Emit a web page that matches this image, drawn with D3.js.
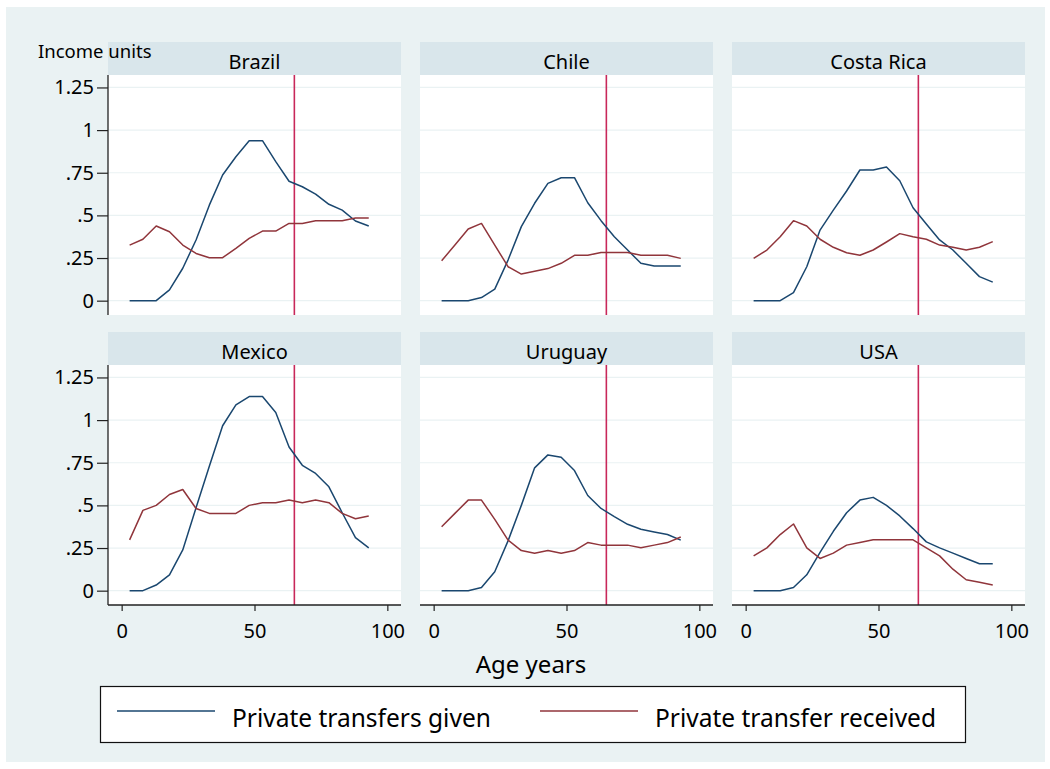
<!DOCTYPE html>
<html>
<head>
<meta charset="utf-8">
<script src="https://cdn.jsdelivr.net/npm/d3@7"></script>
<style>
  html, body { margin: 0; padding: 0; background: #ffffff; }
  svg { display: block; }
  text { font-family: "Noto Sans", "Open Sans", sans-serif; fill: #000; }
</style>
</head>
<body>
<svg id="chart" width="1050" height="769"></svg>
<script>
// Age groups (midpoints, years)
const ages = [3, 8, 13, 18, 23, 28, 33, 38, 43, 48, 53, 58, 63, 68, 73, 78, 83, 88, 93];

const countries = ["Brazil", "Chile", "Costa Rica", "Mexico", "Uruguay", "USA"];

// Private transfers given, by country (income units)
const givenBrazil    = [0, 0, 0, 0.063, 0.19, 0.356, 0.56, 0.737, 0.844, 0.938, 0.938, 0.815, 0.70, 0.668, 0.625, 0.565, 0.531, 0.467, 0.438];
const givenChile     = [0, 0, 0, 0.018, 0.068, 0.238, 0.434, 0.571, 0.688, 0.721, 0.721, 0.574, 0.469, 0.375, 0.297, 0.219, 0.203, 0.203, 0.203];
const givenCostaRica = [0, 0, 0, 0.047, 0.199, 0.414, 0.531, 0.643, 0.766, 0.766, 0.784, 0.703, 0.545, 0.449, 0.356, 0.297, 0.219, 0.141, 0.109];
const givenMexico    = [0, 0, 0.033, 0.093, 0.239, 0.486, 0.73, 0.967, 1.089, 1.138, 1.138, 1.045, 0.842, 0.735, 0.687, 0.609, 0.457, 0.311, 0.251];
const givenUruguay   = [0, 0, 0, 0.019, 0.111, 0.292, 0.5, 0.72, 0.796, 0.782, 0.704, 0.558, 0.482, 0.434, 0.389, 0.36, 0.344, 0.329, 0.296];
const givenUSA       = [0, 0, 0, 0.019, 0.093, 0.224, 0.348, 0.457, 0.531, 0.547, 0.5, 0.438, 0.364, 0.286, 0.251, 0.22, 0.189, 0.158, 0.158];

// Private transfers received, by country (income units)
const recvBrazil     = [0.326, 0.36, 0.438, 0.404, 0.326, 0.277, 0.252, 0.252, 0.307, 0.365, 0.408, 0.408, 0.453, 0.453, 0.469, 0.469, 0.469, 0.485, 0.485];
const recvChile      = [0.234, 0.326, 0.42, 0.453, 0.326, 0.199, 0.156, 0.172, 0.188, 0.219, 0.266, 0.266, 0.283, 0.283, 0.283, 0.266, 0.266, 0.266, 0.248];
const recvCostaRica  = [0.248, 0.297, 0.375, 0.469, 0.438, 0.36, 0.313, 0.281, 0.266, 0.297, 0.344, 0.393, 0.375, 0.36, 0.326, 0.313, 0.297, 0.313, 0.346];
const recvMexico     = [0.298, 0.471, 0.5, 0.564, 0.593, 0.482, 0.453, 0.453, 0.453, 0.5, 0.516, 0.516, 0.531, 0.516, 0.531, 0.516, 0.453, 0.422, 0.438];
const recvUruguay    = [0.375, 0.453, 0.531, 0.531, 0.418, 0.296, 0.235, 0.22, 0.235, 0.22, 0.235, 0.282, 0.267, 0.267, 0.267, 0.251, 0.267, 0.282, 0.315];
const recvUSA        = [0.204, 0.251, 0.329, 0.391, 0.251, 0.189, 0.22, 0.267, 0.282, 0.298, 0.298, 0.298, 0.298, 0.251, 0.204, 0.126, 0.064, 0.049, 0.033];

const givenSeries = [givenBrazil, givenChile, givenCostaRica, givenMexico, givenUruguay, givenUSA];
const recvSeries  = [recvBrazil, recvChile, recvCostaRica, recvMexico, recvUruguay, recvUSA];

// Axis ticks
const yTicks = [0, 0.25, 0.5, 0.75, 1, 1.25];
const yTickLabels = ["0", ".25", ".5", ".75", "1", "1.25"];
const xTicks = [0, 50, 100];
const retirementAge = 65;

const seriesNames = ["Private transfers given", "Private transfer received"];

// Layout
const colLeft = [108, 420, 732];
const rowTop = [75, 365];       // top of each plot area
const panelW = 293, panelH = 240, stripH = 33;

const colGiven = "#1a476f";
const colRecv = "#90353b";
const colVline = "#c8285a";
const colGrid = "#eaf2f3";

const svg = d3.select("#chart");

// graph region background
svg.append("rect").attr("x", 6).attr("y", 7).attr("width", 1039).attr("height", 755).attr("fill", "#eaf2f3");

const x = d3.scaleLinear().domain([-5.14, 105.14]).range([0, panelW]);
const y = d3.scaleLinear().domain([-0.084, 1.323]).range([panelH, 0]);

const line = d3.line().x((d, i) => x(ages[i])).y(d => y(d));

countries.forEach((name, k) => {
  const col = k % 3, row = Math.floor(k / 3);
  const g = svg.append("g").attr("transform", `translate(${colLeft[col]},${rowTop[row]})`);

  // strip
  g.append("rect").attr("x", 0).attr("y", -stripH).attr("width", panelW).attr("height", stripH).attr("fill", "#d9e6eb");
  g.append("text").attr("x", panelW / 2).attr("y", -6).attr("text-anchor", "middle")
    .style("font-size", "20px").text(name);

  // plot region
  g.append("rect").attr("x", 0).attr("y", 0).attr("width", panelW).attr("height", panelH).attr("fill", "#ffffff");

  // gridlines
  g.selectAll("line.grid").data(yTicks).enter().append("line")
    .attr("x1", 0).attr("x2", panelW).attr("y1", d => y(d)).attr("y2", d => y(d))
    .attr("stroke", colGrid).attr("stroke-width", 1.2);

  // reference line at retirement age
  g.append("line").attr("x1", x(retirementAge)).attr("x2", x(retirementAge))
    .attr("y1", 0).attr("y2", panelH).attr("stroke", colVline).attr("stroke-width", 1.6);

  g.append("path").datum(givenSeries[k]).attr("d", line)
    .attr("fill", "none").attr("stroke", colGiven).attr("stroke-width", 1.5).attr("stroke-linejoin", "round");
  g.append("path").datum(recvSeries[k]).attr("d", line)
    .attr("fill", "none").attr("stroke", colRecv).attr("stroke-width", 1.5).attr("stroke-linejoin", "round");

  // y axis on left column
  if (col === 0) {
    const ya = d3.axisLeft(y).tickValues(yTicks).tickSize(11).tickPadding(3)
      .tickFormat((d, i) => yTickLabels[i]);
    const ag = g.append("g").call(ya);
    ag.select(".domain").attr("d", `M0,0V${panelH}`).attr("stroke", "#222").attr("stroke-width", 1.3);
    ag.selectAll(".tick line").attr("stroke", "#222").attr("stroke-width", 1.2);
    ag.selectAll(".tick text").style("font-size", "20px").style("font-family", "Noto Sans").attr("fill", "#000");
  }
  // x axis on bottom row
  if (row === 1) {
    const xa = d3.axisBottom(x).tickValues(xTicks).tickSize(6).tickPadding(13);
    const ag = g.append("g").attr("transform", `translate(0,${panelH})`).call(xa);
    ag.select(".domain").attr("d", `M0,0H${panelW}`).attr("stroke", "#222").attr("stroke-width", 1.3);
    ag.selectAll(".tick line").attr("stroke", "#222").attr("stroke-width", 1.2);
    ag.selectAll(".tick text").style("font-size", "20px").style("font-family", "Noto Sans").attr("fill", "#000");
  }
});

// y axis title
svg.append("text").attr("x", 38).attr("y", 58).style("font-size", "18.5px").text("Income units");

// x axis title
svg.append("text").attr("x", 531).attr("y", 673).attr("text-anchor", "middle").style("font-size", "24px").text("Age years");

// legend
const lg = svg.append("g");
lg.append("rect").attr("x", 100.5).attr("y", 686.5).attr("width", 865).attr("height", 56)
  .attr("fill", "#ffffff").attr("stroke", "#111").attr("stroke-width", 1.2);
const legendItems = [
  { name: seriesNames[0], color: colGiven, x0: 117, tx: 232 },
  { name: seriesNames[1], color: colRecv, x0: 540, tx: 655 }
];
legendItems.forEach(it => {
  lg.append("line").attr("x1", it.x0).attr("x2", it.x0 + 98).attr("y1", 711).attr("y2", 711)
    .attr("stroke", it.color).attr("stroke-width", 1.5);
  lg.append("text").attr("x", it.tx).attr("y", 727).style("font-size", "24.5px").text(it.name);
});
</script>
</body>
</html>
